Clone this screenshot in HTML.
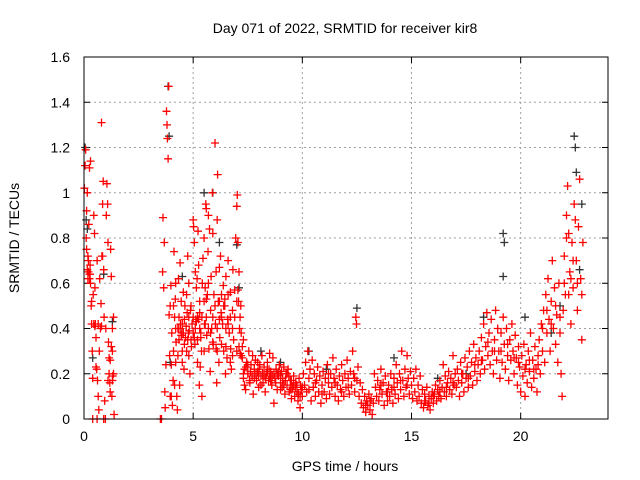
<!DOCTYPE html>
<html><head><meta charset="utf-8"><style>
body{margin:0;background:#fff}
svg{display:block;font-family:"Liberation Sans",sans-serif}
</style></head><body>
<svg id="c" width="640" height="480">
<text x="345" y="33" font-size="14" text-anchor="middle">Day 071 of 2022, SRMTID for receiver kir8</text>
<text x="345" y="471" font-size="14" text-anchor="middle">GPS time / hours</text>
<text transform="translate(19,238) rotate(-90)" font-size="14" text-anchor="middle">SRMTID / TECUs</text>
<g id="grid"></g>
<g id="ticks"></g>
<g id="blk"></g>
<g id="red"></g>
<rect x="84" y="57" width="524" height="362" fill="none" stroke="#000" stroke-width="1"/>
</svg>
<script>
const xTicks=[0,5,10,15,20];
const yTicks=[0,0.2,0.4,0.6,0.8,1,1.2,1.4,1.6];
const yTickLabels=["0","0.2","0.4","0.6","0.8","1","1.2","1.4","1.6"];
const redSeries=[[0.02,1.02],[0.05,1.12],[0.08,1.19],[0.1,0.8],[0.12,0.75],[0.15,0.66],[0.18,0.62],[0.2,0.7],[0.22,0.86],[0.25,0.64],[0.28,0.68],[0.3,0.6],[0.33,0.5],[0.35,0.42],[0.38,0.3],[0.4,0.18],[0.42,0.55],[0.45,0.9],[0.48,0.82],[0.5,0.58],[0.52,0.42],[0.55,0.36],[0.58,0.22],[0.6,0.0],[0.62,0.17],[0.65,0.1],[0.68,0.04],[0.7,0.3],[0.72,0.62],[0.75,0.4],[0.78,0.51],[0.8,1.31],[0.82,0.72],[0.85,0.95],[0.88,1.05],[0.9,0.66],[0.92,0.45],[0.95,0.08],[0.98,0.0],[1.0,0.4],[1.02,0.9],[1.05,1.04],[1.08,0.95],[1.1,0.78],[1.12,0.34],[1.15,0.2],[1.18,0.16],[1.2,0.26],[1.22,0.75],[1.25,0.63],[1.28,0.1],[1.3,0.3],[1.32,0.19],[1.35,0.45],[1.38,0.02],[0.15,1.0],[0.3,1.14],[0.25,1.11],[0.12,0.92],[0.6,0.7],[0.65,0.42],[1.1,0.17],[1.2,0.12],[1.3,0.4],[0.2,0.65],[0.25,0.62],[0.45,0.42],[0.55,0.23],[0.18,0.72],[0.28,0.64],[0.35,0.52],[0.5,0.41],[0.8,0.41],[0.85,0.72],[1.25,0.32],[1.3,0.17],[1.35,0.2],[0.9,0.0],[0.4,0.0],[1.15,0.27],
[3.5,0.0],[3.55,0.0],[3.6,0.65],[3.62,0.89],[3.65,0.58],[3.68,0.78],[3.7,0.12],[3.72,0.05],[3.75,0.24],[3.78,1.36],[3.8,1.3],[3.82,1.24],[3.85,1.15],[3.88,1.47],[3.9,0.46],[3.92,0.28],[3.95,0.5],[3.98,0.59],[4.0,0.24],[4.02,0.38],[4.05,0.06],[4.08,0.17],[4.1,0.3],[4.12,0.74],[4.15,0.45],[4.18,0.53],[4.2,0.25],[4.22,0.34],[4.25,0.1],[4.28,0.04],[4.3,0.4],[4.33,0.62],[4.35,0.35],[4.38,0.15],[4.4,0.69],[4.42,0.42],[4.45,0.52],[4.48,0.38],[4.5,0.3],[4.55,0.56],[4.58,0.22],[4.6,0.44],[4.65,0.36],[4.7,0.55],[4.72,0.47],[4.75,0.72],[4.78,0.38],[4.8,0.6],[4.85,0.2],[4.88,0.48],[4.9,0.35],[4.95,0.42],[5.0,0.88],[5.02,0.85],[5.05,0.78],[5.08,0.33],[5.1,0.65],[5.12,0.44],[5.15,0.58],[5.18,0.62],[5.2,0.45],[5.22,0.83],[5.25,0.68],[5.28,0.15],[5.3,0.52],[5.32,0.23],[5.35,0.38],[5.38,0.3],[5.4,0.1],[5.42,0.6],[5.45,0.71],[5.5,0.8],[5.52,0.42],[5.55,0.58],[5.58,0.95],[5.6,0.93],[5.62,0.37],[5.65,0.55],[5.68,0.74],[5.7,0.9],[5.72,0.31],[5.75,0.84],[5.78,0.21],[5.8,0.48],[5.82,0.63],[5.85,0.4],[5.88,1.0],[5.9,0.82],[5.92,0.33],[5.95,0.55],[6.0,1.22],[6.02,0.42],[6.05,0.65],[6.08,0.16],[6.1,0.88],[6.12,1.08],[6.15,0.52],[6.18,0.25],[6.2,0.67],[6.22,0.36],[6.25,0.72],[6.28,0.47],[6.3,0.55],[6.35,0.42],[6.38,0.59],[6.4,0.3],[6.45,0.5],[6.48,0.2],[6.5,0.63],[6.55,0.27],[6.58,0.44],[6.6,0.7],[6.65,0.38],[6.7,0.56],[6.72,0.31],[6.75,0.22],[6.8,0.48],[6.82,0.66],[6.85,0.35],[6.9,0.57],[6.95,0.8],[7.0,0.94],[7.02,0.99],[7.05,0.78],[7.08,0.52],[7.1,0.65],[7.12,0.4],[7.15,0.29],[7.18,0.5],[7.2,0.38],[4.32,0.4],[4.45,0.37],[4.6,0.33],[4.68,0.41],[4.82,0.39],[4.92,0.32],[5.05,0.36],[5.15,0.43],[5.25,0.44],[5.35,0.36],[5.55,0.42],[5.7,0.4],[5.9,0.34],[6.05,0.31],[6.2,0.44],[6.45,0.53],[6.6,0.42],[4.4,0.4],[4.55,0.38],[4.75,0.35],[5.0,0.45],[5.3,0.47],[5.6,0.53],[6.3,0.33],[6.7,0.25],[7.0,0.3],[7.05,0.57],
[4.1,0.5],[4.2,0.4],[4.3,0.28],[4.35,0.45],[4.5,0.42],[4.62,0.5],[4.7,0.3],[4.8,0.45],[4.9,0.5],[5.0,0.38],[5.1,0.4],[5.2,0.35],[5.3,0.4],[5.4,0.45],[5.5,0.52],[5.6,0.45],[5.7,0.6],[5.8,0.38],[5.9,0.45],[6.0,0.5],[6.1,0.4],[6.2,0.52],[6.3,0.45],[6.4,0.5],[6.5,0.4],[6.6,0.55],[6.7,0.45],[6.8,0.4],[6.9,0.45],[7.0,0.52],[7.1,0.32],[7.15,0.45],[4.2,0.6],[4.5,0.25],[4.8,0.28],[5.2,0.25],[5.5,0.3],[6.1,0.3],[6.5,0.32],[6.8,0.28],[3.95,0.1],[4.0,0.1],[4.15,0.15],[7.2,0.28],[7.25,0.32],[7.3,0.35],
[7.25,0.27],[7.3,0.18],[7.35,0.22],[7.4,0.13],[7.45,0.25],[7.5,0.2],[7.55,0.3],[7.6,0.16],[7.65,0.24],[7.7,0.19],[7.75,0.11],[7.8,0.22],[7.85,0.26],[7.9,0.17],[7.95,0.21],[8.0,0.14],[8.05,0.24],[8.1,0.19],[8.15,0.28],[8.2,0.16],[8.25,0.23],[8.3,0.12],[8.35,0.2],[8.4,0.25],[8.45,0.17],[8.5,0.29],[8.55,0.21],[8.6,0.15],[8.65,0.27],[8.7,0.07],[8.75,0.18],[8.8,0.22],[8.85,0.13],[8.9,0.19],[8.95,0.24],[9.0,0.16],[9.05,0.21],[9.1,0.18],[9.15,0.23],[9.2,0.11],[9.25,0.2],[9.3,0.15],[9.35,0.22],[9.4,0.12],[9.45,0.17],[9.5,0.09],[9.55,0.14],[9.6,0.19],[9.65,0.1],[9.7,0.16],[9.75,0.12],[9.8,0.08],[9.85,0.18],[9.9,0.05],[9.95,0.13],[10.0,0.1],[7.3,0.2],[7.42,0.23],[7.58,0.17],[7.72,0.28],[7.88,0.2],[8.02,0.22],[8.18,0.2],[8.32,0.18],[8.48,0.22],[8.62,0.19],[8.78,0.16],[8.92,0.21],[9.08,0.14],[9.22,0.17],[9.38,0.19],[9.52,0.13],[9.68,0.14],[9.82,0.11],[9.92,0.15],[7.35,0.15],[7.5,0.24],[7.62,0.21],[7.8,0.18],[7.95,0.25],[8.1,0.15],[8.25,0.19],[8.4,0.21],[8.55,0.17],[8.7,0.2],[8.85,0.2],[9.0,0.2],[9.15,0.15],[9.3,0.2],[9.45,0.13],[9.6,0.15],[9.75,0.15],[9.9,0.1],[10.0,0.14],[8.0,0.19],[8.5,0.18],[9.0,0.13],[9.5,0.17],
[10.05,0.2],[10.1,0.15],[10.15,0.25],[10.2,0.12],[10.25,0.3],[10.3,0.18],[10.35,0.22],[10.4,0.08],[10.45,0.26],[10.5,0.14],[10.55,0.2],[10.6,0.1],[10.65,0.17],[10.7,0.23],[10.75,0.12],[10.8,0.19],[10.85,0.07],[10.9,0.15],[10.95,0.21],[11.0,0.12],[11.05,0.18],[11.1,0.09],[11.15,0.24],[11.2,0.16],[11.25,0.11],[11.3,0.2],[11.35,0.14],[11.4,0.27],[11.45,0.18],[11.5,0.1],[11.55,0.22],[11.6,0.15],[11.65,0.08],[11.7,0.19],[11.75,0.13],[11.8,0.24],[11.85,0.17],[11.9,0.1],[11.95,0.2],[12.0,0.14],[12.05,0.26],[12.1,0.18],[12.15,0.11],[12.2,0.21],[12.25,0.15],[12.3,0.3],[12.35,0.2],[12.4,0.12],[12.45,0.45],[12.48,0.42],[12.5,0.17],[12.55,0.23],[12.6,0.1],[12.65,0.16],[12.7,0.07],[12.75,0.13],[12.8,0.05],[12.85,0.1],[12.9,0.03],[12.95,0.08],[13.0,0.06],[13.05,0.11],[13.1,0.04],[13.15,0.09],[13.2,0.02],[13.25,0.07],[13.3,0.2],[13.35,0.14],[13.4,0.1],[13.45,0.17],[13.5,0.08],[13.55,0.13],[13.6,0.22],[13.65,0.11],[13.7,0.16],[13.75,0.06],[13.8,0.19],[13.85,0.12],[13.9,0.08],[13.95,0.15],[14.0,0.1],[14.05,0.2],[14.1,0.13],[14.15,0.07],[14.2,0.18],[14.25,0.11],[14.3,0.24],[14.35,0.16],[14.4,0.09],[14.45,0.2],[14.5,0.13],[14.55,0.3],[14.6,0.17],[14.65,0.1],[14.7,0.22],[14.75,0.14],[14.8,0.28],[14.85,0.18],[14.9,0.11],[14.95,0.21],[15.0,0.15],[10.3,0.13],[10.6,0.16],[10.9,0.11],[11.2,0.2],[11.5,0.16],[11.8,0.12],[12.1,0.14],[12.4,0.18],[12.9,0.06],[13.1,0.08],[13.6,0.15],[13.9,0.12],[14.2,0.14],[14.5,0.17],[14.8,0.15],
[15.05,0.09],[15.1,0.18],[15.15,0.12],[15.2,0.22],[15.25,0.08],[15.3,0.15],[15.35,0.1],[15.4,0.19],[15.45,0.07],[15.5,0.13],[15.55,0.05],[15.6,0.11],[15.65,0.08],[15.7,0.14],[15.75,0.06],[15.8,0.1],[15.85,0.04],[15.9,0.09],[15.95,0.12],[16.0,0.07],[16.05,0.11],[16.1,0.15],[16.15,0.08],[16.2,0.13],[16.25,0.1],[16.3,0.17],[16.35,0.09],[16.4,0.14],[16.45,0.24],[16.5,0.12],[16.55,0.19],[16.6,0.1],[16.65,0.16],[16.7,0.21],[16.75,0.13],[16.8,0.18],[16.85,0.11],[16.9,0.28],[16.95,0.15],[17.0,0.2],[15.6,0.08],[15.8,0.07],[16.0,0.1],[16.3,0.12],[16.6,0.14],[16.9,0.16],
[17.05,0.14],[17.1,0.22],[17.15,0.17],[17.2,0.1],[17.25,0.25],[17.3,0.16],[17.35,0.2],[17.4,0.12],[17.45,0.27],[17.5,0.18],[17.55,0.23],[17.6,0.14],[17.65,0.3],[17.7,0.19],[17.75,0.25],[17.8,0.15],[17.85,0.33],[17.9,0.21],[17.95,0.27],[18.0,0.17],[18.05,0.24],[18.1,0.3],[18.15,0.2],[18.2,0.36],[18.25,0.26],[18.3,0.42],[18.35,0.22],[18.4,0.32],[18.45,0.47],[18.5,0.28],[18.55,0.38],[18.6,0.24],[18.65,0.44],[18.7,0.3],[18.75,0.2],[18.8,0.35],[18.85,0.48],[18.9,0.26],[18.95,0.4],[19.0,0.3],[19.05,0.18],[19.1,0.38],[19.15,0.25],[19.2,0.45],[19.25,0.33],[19.3,0.22],[19.35,0.4],[19.4,0.28],[19.45,0.17],[19.5,0.35],[19.55,0.26],[19.6,0.42],[19.65,0.3],[19.7,0.2],[19.75,0.37],[19.8,0.27],[19.85,0.15],[19.9,0.32],[19.95,0.23],[20.0,0.12],[17.3,0.2],[17.6,0.18],[17.9,0.24],[18.2,0.26],[18.5,0.34],[18.8,0.3],[19.1,0.3],[19.4,0.33],[19.7,0.27],[19.9,0.25],
[20.05,0.28],[20.1,0.19],[20.15,0.33],[20.2,0.1],[20.25,0.24],[20.3,0.16],[20.35,0.3],[20.4,0.21],[20.45,0.38],[20.5,0.14],[20.55,0.26],[20.6,0.18],[20.65,0.32],[20.7,0.22],[20.75,0.12],[20.8,0.28],[20.85,0.35],[20.9,0.2],[20.95,0.42],[21.0,0.3],[21.05,0.48],[21.1,0.25],[21.15,0.55],[21.2,0.38],[21.25,0.62],[21.3,0.44],[21.35,0.3],[21.4,0.52],[21.45,0.7],[21.5,0.4],[21.55,0.58],[21.6,0.33],[21.65,0.46],[21.7,0.25],[21.75,0.6],[21.8,0.38],[21.85,0.2],[21.9,0.1],[21.95,0.48],[22.0,0.72],[22.05,0.55],[22.1,0.9],[22.15,1.03],[22.2,0.82],[22.25,0.65],[22.3,0.42],[22.35,0.78],[22.4,0.58],[22.45,0.95],[22.5,0.88],[22.55,0.7],[22.6,0.48],[22.65,0.85],[22.7,1.06],[22.75,0.62],[22.8,0.35],[22.85,0.78],[20.2,0.22],[20.4,0.26],[20.6,0.22],[20.8,0.24],[21.0,0.4],[21.2,0.48],[21.4,0.42],[21.6,0.5],[21.8,0.45],[22.0,0.6],[22.2,0.55],[22.4,0.7],[22.6,0.6],[22.8,0.55],[22.1,0.8],[22.3,0.62]];
const blackSeries=[[0.05,1.2],[0.1,0.88],[0.15,0.84],[0.9,0.64],[0.4,0.27],[1.3,0.43],[3.85,1.47],[3.9,1.25],[3.95,0.25],[4.5,0.63],[5.5,1.0],[5.9,1.0],[6.2,0.78],[7.0,0.77],[7.1,0.58],[10.3,0.3],[11.1,0.22],[12.5,0.49],[14.2,0.27],[16.2,0.18],[18.3,0.45],[19.2,0.82],[19.25,0.78],[19.2,0.63],[20.2,0.45],[21.4,0.38],[21.8,0.5],[22.45,1.25],[22.5,1.2],[22.55,1.09],[22.8,0.95],[22.7,0.66],[17.5,0.2],[9.0,0.25],[8.1,0.3]];
const NS='http://www.w3.org/2000/svg';
const X0=84,X1=608,Y0=419,Y1=57,XMAX=24,YMAX=1.6;
function sx(t){return X0+(X1-X0)*t/XMAX;}
function sy(v){return Y0-(Y0-Y1)*v/YMAX;}
function mk(tag,attrs,parent){const e=document.createElementNS(NS,tag);for(const k in attrs)e.setAttribute(k,attrs[k]);parent.appendChild(e);return e;}
const grid=document.getElementById('grid'),ticks=document.getElementById('ticks');
yTicks.forEach((v,i)=>{
  const y=sy(v);
  if(i>0&&i<yTicks.length-1){const g=mk('line',{x1:X0,x2:X1,y1:y,y2:y,stroke:'#a0a0a0','stroke-dasharray':'2,3'},grid);
  
  }
  mk('line',{x1:X0,x2:X0+6,y1:y,y2:y,stroke:'#000'},ticks);
  mk('line',{x1:X1-6,x2:X1,y1:y,y2:y,stroke:'#000'},ticks);
  const t=mk('text',{x:X0-14,y:y+5,'font-size':14,'text-anchor':'end'},ticks);
  t.textContent=yTickLabels[i];
  
  
});
xTicks.forEach(v=>{
  const x=sx(v);
  if(v>0){const g=mk('line',{x1:x,x2:x,y1:Y0,y2:Y1,stroke:'#a0a0a0','stroke-dasharray':'2,3'},grid);
  
  }
  mk('line',{x1:x,x2:x,y1:Y0,y2:Y0-6,stroke:'#000'},ticks);
  mk('line',{x1:x,x2:x,y1:Y1,y2:Y1+6,stroke:'#000'},ticks);
  const t=mk('text',{x:x,y:Y0+22,'font-size':14,'text-anchor':'middle'},ticks);
  t.textContent=String(v);
  
  
});
function plot(series,gid,color){
  const g=document.getElementById(gid);let d='';
  series.forEach(p=>{const x=sx(p[0]),y=sy(p[1]);d+=`M${(x-4).toFixed(1)},${y.toFixed(1)}h8M${x.toFixed(1)},${(y-4).toFixed(1)}v8`;});
  const path=mk('path',{d:d,stroke:color,'stroke-width':1.3,fill:'none'},g);
  
  
}
plot(blackSeries,'blk','#333');
plot(redSeries,'red','#ff0000');
</script>
</body></html>
